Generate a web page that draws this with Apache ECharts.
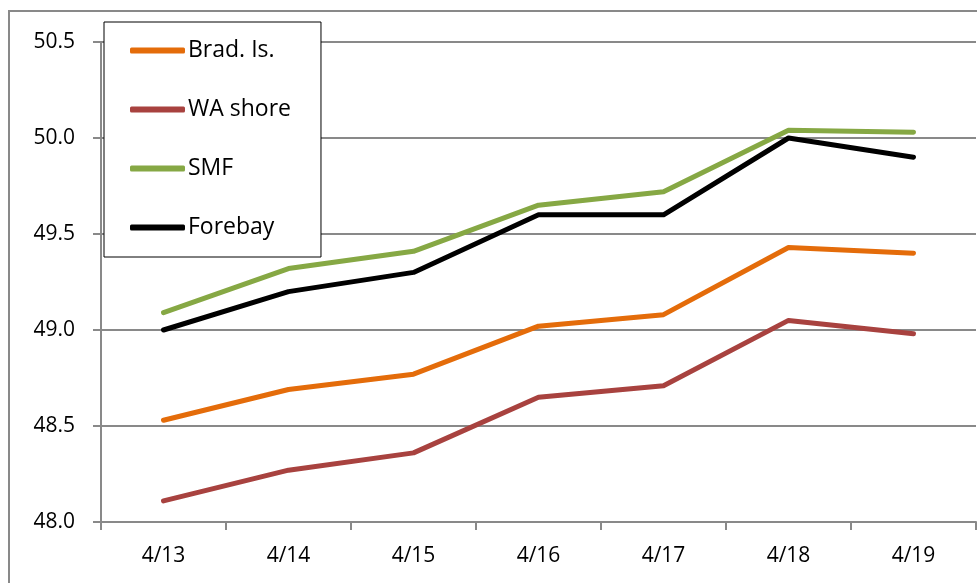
<!DOCTYPE html>
<html>
<head>
<meta charset="utf-8">
<script src="https://cdn.jsdelivr.net/npm/echarts@6/dist/echarts.min.js"></script>
<style>
  html, body { margin: 0; padding: 0; background: #fff; }
  #main { width: 977px; height: 583px; }
</style>
</head>
<body>
<div id="main"></div>
<script>
var days = ['4/13', '4/14', '4/15', '4/16', '4/17', '4/18', '4/19'];
var bradIs = [48.53, 48.69, 48.77, 49.02, 49.08, 49.43, 49.40];
var waShore = [48.11, 48.27, 48.36, 48.65, 48.71, 49.05, 48.98];
var smf = [49.09, 49.32, 49.41, 49.65, 49.72, 50.04, 50.03];
var forebay = [49.0, 49.2, 49.3, 49.6, 49.6, 50.0, 49.9];
var yTicks = [48.0, 48.5, 49.0, 49.5, 50.0, 50.5];

var chart = echarts.init(document.getElementById('main'));
var font = 'Open Sans';

function line(name, data, color) {
  return {
    name: name,
    type: 'line',
    data: data,
    symbol: 'none',
    lineStyle: { color: color, width: 5, cap: 'round', join: 'round' },
    itemStyle: { color: color }
  };
}

var option = {
  animation: false,
  backgroundColor: '#fff',
  graphic: [{
    type: 'rect',
    shape: { x: 9, y: 11, width: 2000, height: 2000 },
    style: { fill: 'none', stroke: '#898989', lineWidth: 2 },
    z: -1
  }],
  grid: { left: 101, right: 1, top: 42, bottom: 61, containLabel: false },
  legend: {
    orient: 'vertical',
    left: 104,
    top: 22,
    padding: [17, 30, 18, 26],
    itemGap: 36,
    itemWidth: 55,
    itemHeight: 6,
    icon: 'roundRect',
    borderColor: '#000',
    borderWidth: 1,
    backgroundColor: '#fff',
    textStyle: { fontFamily: font, fontSize: 23, color: '#000', lineHeight: 22, padding: [0, 0, 0, -2] },
    data: ['Brad. Is.', 'WA shore', 'SMF', 'Forebay']
  },
  xAxis: {
    type: 'category',
    data: days,
    boundaryGap: true,
    axisLine: { lineStyle: { color: '#898989', width: 2 } },
    axisTick: { show: true, length: 8, lineStyle: { color: '#898989', width: 2 } },
    axisLabel: { fontFamily: font, fontSize: 21, color: '#000', margin: 24 }
  },
  yAxis: {
    type: 'value',
    min: yTicks[0],
    max: yTicks[yTicks.length - 1],
    interval: 0.5,
    axisLine: { show: true, lineStyle: { color: '#898989', width: 2 } },
    axisTick: { show: true, length: 8, lineStyle: { color: '#898989', width: 2 } },
    axisLabel: {
      fontFamily: font, fontSize: 21, color: '#000', margin: 26,
      formatter: function (v) { return v.toFixed(1); }
    },
    splitLine: { lineStyle: { color: '#898989', width: 2 } }
  },
  series: [
    line('Brad. Is.', bradIs, '#E46C0A'),
    line('WA shore', waShore, '#A8423F'),
    line('SMF', smf, '#86A844'),
    line('Forebay', forebay, '#000000')
  ]
};

chart.setOption(option);
</script>
</body>
</html>
